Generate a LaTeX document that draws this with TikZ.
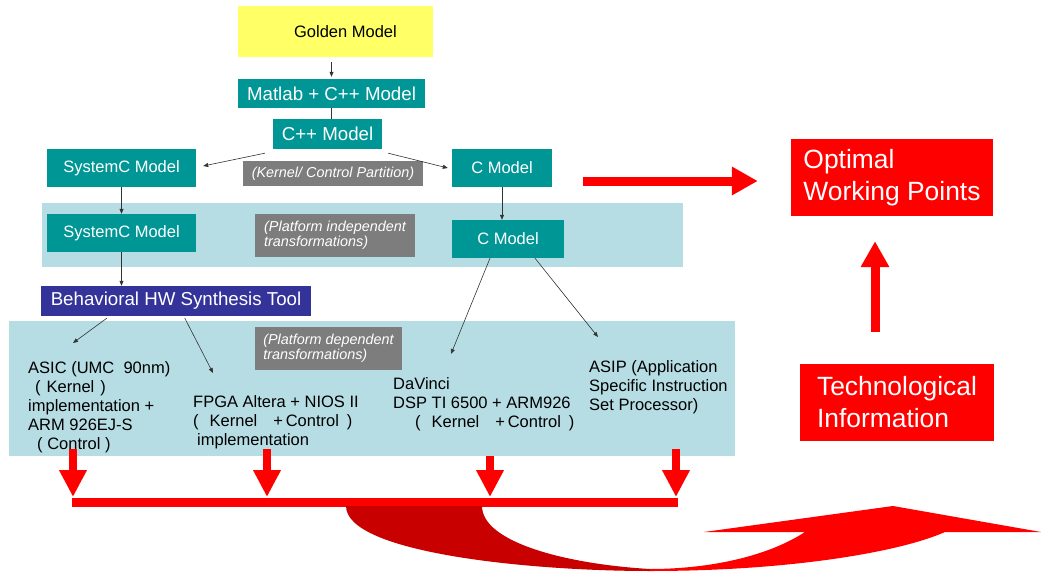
\documentclass[tikz,border=0pt]{standalone}
\usepackage{fontspec}
\setmainfont{Liberation Sans}
\usetikzlibrary{arrows.meta}
\definecolor{mteal}{RGB}{0,150,150}
\definecolor{bandblue}{RGB}{183,221,228}
\definecolor{partgray}{RGB}{125,125,125}
\definecolor{hwblue}{RGB}{51,51,153}
\definecolor{goldyel}{RGB}{255,255,102}
\definecolor{darkred}{RGB}{200,0,0}
\newcommand{\fs}[2]{\fontsize{#1}{#2}\selectfont}

\begin{document}
\begin{tikzpicture}[x=1pt, y=-1pt,
  model/.style={fill=mteal, text=white, font=\fs{16.5}{19}, inner sep=0pt},
  band/.style={fill=bandblue, inner sep=0pt},
  part/.style={fill=partgray, text=white, font=\fs{14.4}{15.5}\itshape,
               align=left, inner sep=0pt},
  target/.style={fill=red, text=white, font=\fs{26.4}{32}, align=left, inner sep=0pt},
  impl/.style={anchor=north west, align=left, inner sep=0pt, font=\fs{16.5}{19}},
  thinarr/.style={-{Triangle[length=5pt,width=4pt]}, draw=black!80, line width=0.6pt},
  redarr/.style={draw=red, line width=9pt, -{Triangle[length=26pt,width=27pt]}},
  droparr/.style={draw=red, line width=8pt, -{Triangle[length=27pt,width=26pt]}}]
  \useasboundingbox (0,0) rectangle (1041,575);
  % bands behind the models
  \node[band, minimum width=641pt, minimum height=64pt] (band1) at (362.5,235) {};
  \node[band, minimum width=726pt, minimum height=135pt] (band2) at (372,388.5) {};
  % model chain
  \node[fill=goldyel, inner sep=0pt, font=\fs{16.5}{19}, minimum width=195pt,
        minimum height=51pt] (gm) at (335.5,31.5) {\hspace{20pt}Golden Model};
  \node[model, font=\fs{18.7}{21}, minimum width=187pt, minimum height=29pt]
        (matlab) at (331.5,93.5) {Matlab + C++ Model};
  \node[model, font=\fs{18.7}{21}, minimum width=109pt, minimum height=30pt]
        (cpp) at (327.5,134) {C++ Model};
  \node[model, minimum width=149pt, minimum height=38pt] (sysc1) at (121.5,168) {SystemC Model};
  \node[part, minimum width=180pt, minimum height=25pt] (kpart) at (333,173.5)
        {(Kernel/ Control Partition)};
  \node[model, minimum width=100pt, minimum height=38pt] (c1) at (502,168) {C Model};
  \node[model, minimum width=149pt, minimum height=38pt] (sysc2) at (121.5,233) {SystemC Model};
  \node[part, minimum width=160pt, minimum height=43pt] (pind) at (335,235.5)
        {(Platform independent\\transformations)};
  \node[model, minimum width=112pt, minimum height=38pt] (c2) at (508,239) {C Model};
  \node[fill=hwblue, text=white, inner sep=0pt, font=\fs{18.7}{21}, minimum width=270pt,
        minimum height=30pt] (hw) at (176,301) {Behavioral HW Synthesis Tool};
  \node[part, minimum width=147pt, minimum height=43pt] (pdep) at (328.5,348.5)
        {(Platform dependent\\transformations)};
  % implementation targets
  \node[impl] (asic) at (28,361) {ASIC (UMC\ \ 90nm)\\\hspace{7pt}(\hspace{6pt}Kernel\hspace{6pt})\\
        implementation +\\ARM 926EJ-S\\\hspace{9pt}( Control )};
  \node[impl] (fpga) at (193,395) {FPGA Altera + NIOS II\\
        (\hspace{11pt}Kernel\hspace{16pt}+\,Control\hspace{8pt})\\\hspace{4pt}implementation};
  \node[impl] (davinci) at (393,377) {DaVinci\\DSP TI 6500 + ARM926\\
        \hspace{22pt}(\hspace{11pt}Kernel\hspace{16pt}+\,Control\hspace{8pt})};
  \node[impl] (asip) at (589,360) {ASIP (Application\\Specific Instruction\\Set Processor)};
  % red result boxes
  \node[target, minimum width=202pt, minimum height=77pt] (opt) at (892,177.5)
        {Optimal\\Working Points};
  \node[target, minimum width=194pt, minimum height=77pt] (tech) at (897,402.5)
        {Technological\\Information};
  % thin connectors
  \draw[thinarr, shorten <=5pt, shorten >=2pt] (gm.south -| matlab) -- (matlab.north);
  \draw[draw=black!80, line width=0.6pt] (matlab.south) -- (matlab.south |- cpp.north);
  \draw[thinarr] ([xshift=-8pt,yshift=-4pt]cpp.south west) -- ([xshift=7pt,yshift=2pt]sysc1.east);
  \draw[thinarr] ([xshift=6pt,yshift=-4pt]cpp.south east) -- ([xshift=-4pt]c1.west);
  \draw[thinarr] (sysc1) -- (sysc2);
  \draw[thinarr] (c1.south) -- (c1.south |- c2.north);
  \draw[thinarr] (sysc2.south) -- (sysc2.south |- hw.north);
  \draw[thinarr] ([xshift=66pt,yshift=-2pt]hw.south west) -- ([xshift=45pt,yshift=18pt]asic.north west);
  \draw[thinarr] ([xshift=144pt,yshift=-2pt]hw.south west) -- ([xshift=20pt,yshift=22pt]fpga.north west);
  \draw[thinarr] ([xshift=-18pt]c2.south) -- ([xshift=58pt,yshift=23pt]davinci.north west);
  \draw[thinarr] ([xshift=27pt]c2.south) -- ([xshift=9pt,yshift=23pt]asip.north west);
  % red flow
  \coordinate (wp) at (583,181);
  \draw[redarr, shorten >=33pt] (wp) -- (wp -| opt.west);
  \draw[redarr, shorten <=32pt, shorten >=25pt] (tech.north -| 875,0) -- (opt.south -| 875,0);
  \coordinate (barL) at (73,502);
  \coordinate (barR) at (676,502);
  \fill[red] ([yshift=4.5pt,xshift=-1pt]barL) rectangle ([yshift=-4.5pt,xshift=2pt]barR);
  \foreach \x/\s [count=\i] in {73/7,267/7,490/0,676/7} {
    \coordinate (bar\i) at (\x,497);
    \draw[droparr] ([yshift=\s pt]band2.south -| bar\i) -- (bar\i);
  }
  % curved feedback arrow
  \fill[darkred] (346,506) .. controls (346,553) and (530,571) .. (650,571)
    -- (650,569) .. controls (565,564) and (482,542) .. (482,506) -- cycle;
  \fill[red] (650,571) .. controls (790,571) and (900,552) .. (945,532)
    -- (1041,532) -- (893,506) -- (704,532) -- (805,532)
    .. controls (765,558) and (705,569) .. (650,569) -- cycle;
\end{tikzpicture}
\end{document}
